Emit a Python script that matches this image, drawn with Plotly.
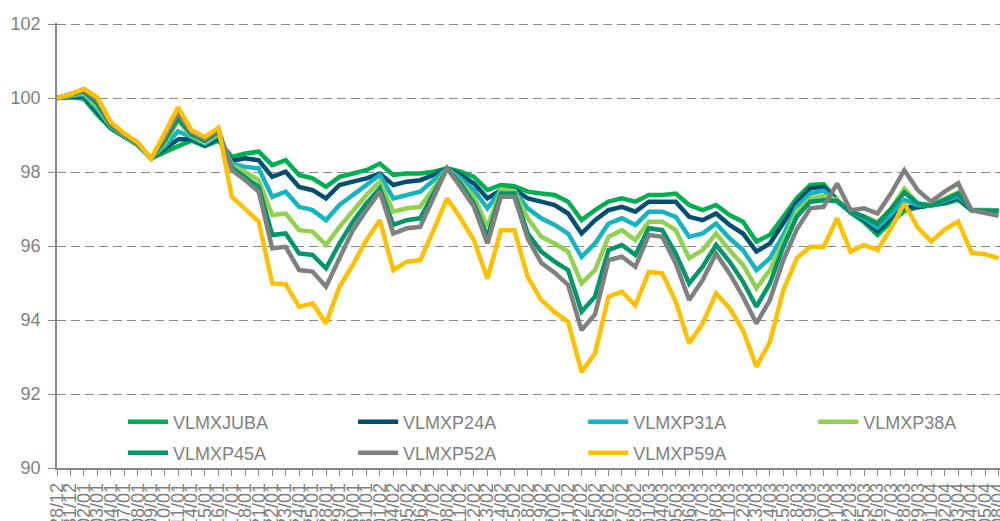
import plotly.graph_objects as go

# Trading days (dd/mm), 28 Dec 2012 to 8 Apr 2013
dates = [
    "28/12", "31/12",
    "02/01", "03/01", "04/01", "07/01", "08/01", "09/01", "10/01", "11/01",
    "14/01", "15/01", "16/01", "17/01", "18/01", "21/01", "22/01", "23/01",
    "24/01", "25/01", "28/01", "29/01", "30/01", "31/01",
    "01/02", "04/02", "05/02", "06/02", "07/02", "08/02", "11/02", "12/02",
    "13/02", "14/02", "15/02", "18/02", "19/02", "20/02", "21/02", "22/02",
    "25/02", "26/02", "27/02", "28/02",
    "01/03", "04/03", "05/03", "06/03", "07/03", "08/03", "11/03", "12/03",
    "13/03", "14/03", "15/03", "18/03", "19/03", "20/03", "21/03", "22/03",
    "25/03", "26/03", "27/03", "28/03", "29/03",
    "01/04", "02/04", "03/04", "04/04", "05/04", "08/04",
]

vlmxjuba = [
    100.0, 100.03, 99.98, 99.55, 99.18, 98.95, 98.73, 98.37, 98.55, 98.7, 98.85, 98.7, 98.85,
    98.41, 98.5, 98.55, 98.19, 98.32, 97.92, 97.83, 97.6, 97.87, 97.96, 98.05, 98.23, 97.92,
    97.96, 97.96, 98.01, 98.1, 98.01, 97.87, 97.51,
    97.65, 97.62, 97.47, 97.42, 97.38, 97.2, 96.7, 96.97, 97.2, 97.29, 97.2, 97.38, 97.38,
    97.42, 97.11, 96.97, 97.11, 96.84, 96.66, 96.12, 96.3, 96.79, 97.29, 97.65, 97.67,
    97.25, 96.9, 96.65, 96.3, 96.65, 96.95, 97.05, 97.1, 97.15, 97.25, 96.97, 96.96, 96.95,
]
vlmxp24a = [
    100.0, 100.04, 100.05, 99.62, 99.2, 98.96, 98.74, 98.37, 98.62, 98.88, 98.9, 98.72, 98.92,
    98.3, 98.37, 98.32, 97.87, 98.01, 97.6, 97.51, 97.29, 97.65, 97.74, 97.83, 97.96, 97.65,
    97.74, 97.78, 97.92, 98.1, 97.92, 97.69, 97.29,
    97.51, 97.53, 97.29, 97.2, 97.11, 96.88, 96.34, 96.7, 96.97, 97.06, 96.93, 97.2, 97.2,
    97.2, 96.79, 96.7, 96.88, 96.57, 96.34, 95.85, 96.07, 96.61, 97.18, 97.56, 97.6,
    97.22, 96.92, 96.7, 96.4, 96.75, 97.05, 97.05, 97.1, 97.18, 97.3, 96.97, 96.97, 96.96,
]
vlmxp31a = [
    100.0, 100.05, 100.1, 99.7, 99.22, 98.97, 98.75, 98.37, 98.7, 99.1, 98.95, 98.76, 99.0,
    98.23, 98.14, 98.1, 97.33, 97.47, 97.06, 96.97, 96.7, 97.11, 97.38, 97.65, 97.92, 97.29,
    97.38, 97.47, 97.78, 98.1, 97.83, 97.51, 97.02,
    97.52, 97.5, 97.02, 96.75, 96.57, 96.34, 95.71, 96.07, 96.61, 96.75, 96.57, 96.93, 96.93,
    96.79, 96.25, 96.34, 96.61, 96.21, 95.89, 95.35, 95.67, 96.3, 97.06, 97.42, 97.5,
    97.2, 96.92, 96.75, 96.5, 96.85, 97.25, 97.1, 97.1, 97.22, 97.35, 96.98, 96.97, 96.97,
]
vlmxp38a = [
    100.0, 100.07, 100.14, 99.78, 99.25, 98.98, 98.76, 98.37, 98.78, 99.38, 98.98, 98.8, 99.05,
    98.18, 98.0, 97.78, 96.84, 96.88, 96.43, 96.39, 96.03, 96.52, 96.97, 97.38, 97.74, 96.93,
    97.02, 97.06, 97.56, 98.1, 97.74, 97.33, 96.52,
    97.51, 97.49, 96.75, 96.25, 96.07, 95.85, 94.99, 95.35, 96.25, 96.43, 96.16, 96.66, 96.66,
    96.43, 95.67, 95.89, 96.34, 95.89, 95.49, 94.86, 95.35, 96.12, 96.93, 97.29, 97.35,
    97.25, 96.95, 96.8, 96.65, 97.0, 97.55, 97.15, 97.1, 97.28, 97.45, 96.97, 96.97, 96.96,
]
vlmxp45a = [
    100.0, 100.08, 100.18, 99.85, 99.27, 99.0, 98.77, 98.37, 98.85, 99.45, 99.02, 98.85, 99.1,
    98.12, 97.87, 97.6, 96.3, 96.34, 95.8, 95.76, 95.4, 96.07, 96.66, 97.15, 97.56, 96.57,
    96.7, 96.75, 97.42, 98.1, 97.69, 97.15, 96.25,
    97.42, 97.42, 96.34, 95.85, 95.58, 95.35, 94.23, 94.63, 95.89, 96.03, 95.76, 96.48, 96.43,
    95.8, 94.99, 95.44, 96.03, 95.58, 95.04, 94.36, 94.99, 95.98, 96.79, 97.2, 97.24,
    97.22, 96.93, 96.8, 96.6, 97.0, 97.45, 97.15, 97.1, 97.25, 97.42, 96.97, 96.97, 96.95,
]
vlmxp52a = [
    100.0, 100.1, 100.22, 99.95, 99.3, 99.02, 98.78, 98.37, 98.95, 99.6, 99.08, 98.9, 99.15,
    98.05, 97.78, 97.47, 95.94, 95.98, 95.35, 95.31, 94.9, 95.67, 96.43, 96.97, 97.47, 96.34,
    96.48, 96.52, 97.33, 98.1, 97.6, 97.06, 96.07,
    97.33, 97.33, 96.2, 95.55, 95.28, 94.95, 93.73, 94.15, 95.62, 95.71, 95.44, 96.3, 96.25,
    95.53, 94.54, 95.08, 95.8, 95.26, 94.63, 93.91, 94.54, 95.62, 96.45, 97.02, 97.06,
    97.69, 96.97, 97.02, 96.88, 97.42, 98.05, 97.51, 97.2, 97.47, 97.7, 96.97, 96.9, 96.82,
]
vlmxp59a = [
    100.0, 100.1, 100.25, 100.02, 99.35, 99.05, 98.8, 98.37, 99.05, 99.75, 99.13, 98.95, 99.2,
    97.33, 97.0, 96.66, 94.99, 94.97, 94.36, 94.45, 93.91, 94.9, 95.5, 96.16, 96.7, 95.35,
    95.58, 95.62, 96.43, 97.29, 96.75, 96.16, 95.12,
    96.43, 96.43, 95.17, 94.54, 94.22, 93.95, 92.6, 93.1, 94.63, 94.77, 94.4, 95.3, 95.26,
    94.5, 93.37, 93.91, 94.72, 94.32, 93.73, 92.74, 93.41, 94.81, 95.67, 95.98, 95.98,
    96.75, 95.85, 96.03, 95.89, 96.48, 97.15, 96.5, 96.12, 96.45, 96.66, 95.82, 95.78, 95.67,
]

names = ["VLMXJUBA", "VLMXP24A", "VLMXP31A", "VLMXP38A", "VLMXP45A", "VLMXP52A", "VLMXP59A"]
values = [vlmxjuba, vlmxp24a, vlmxp31a, vlmxp38a, vlmxp45a, vlmxp52a, vlmxp59a]
colors = ["#00B050", "#004F70", "#14B4C2", "#92D050", "#00966C", "#808080", "#FFC000"]

# Legend grid: four entries per row, two rows, inside the plot area
legend_cols = [0.07, 0.314, 0.558, 0.802, 0.07, 0.314, 0.558]
legend_rows = [0.1034, 0.1034, 0.1034, 0.1034, 0.0337, 0.0337, 0.0337]

FONT = "Liberation Sans, Arial, sans-serif"
GREY = "#8a8a8a"
TEXT = "#7f7f7f"

fig = go.Figure()
legend_layout = {}
for k, (name, vals, color) in enumerate(zip(names, values, colors)):
    key = "legend" if k == 0 else f"legend{k + 1}"
    fig.add_trace(go.Scatter(
        x=dates, y=vals, name=name, mode="lines",
        line=dict(color=color, width=4.5),
        legend=key,
    ))
    legend_layout[key] = dict(
        x=legend_cols[k], y=legend_rows[k],
        xanchor="left", yanchor="middle", orientation="h",
        bgcolor="rgba(0,0,0,0)", itemwidth=40,
        font=dict(family=FONT, size=18, color=TEXT),
    )

fig.update_layout(
    width=1000, height=521,
    margin=dict(l=57, r=0, t=23, b=53),
    paper_bgcolor="white", plot_bgcolor="white",
    font=dict(family=FONT, size=18, color=TEXT),
    showlegend=True,
    xaxis=dict(
        type="category", range=[0, 70.11],
        tickmode="array", tickvals=dates, ticktext=dates,
        tickangle=-90, tickfont=dict(family=FONT, size=18, color=TEXT),
        ticks="outside", ticklen=6, tickwidth=1.2, tickcolor=GREY,
        showline=True, linecolor=GREY, linewidth=1.5,
        showgrid=False, zeroline=False, automargin=False,
    ),
    yaxis=dict(
        range=[90, 102.03], tickvals=[90, 92, 94, 96, 98, 100, 102],
        tickfont=dict(family=FONT, size=18, color=TEXT),
        ticks="outside", ticklen=7, tickwidth=1.2, tickcolor=GREY,
        ticklabelstandoff=4,
        showline=True, linecolor=GREY, linewidth=1.5,
        showgrid=True, gridcolor=GREY, gridwidth=1.3, griddash="9px,5px",
        zeroline=False, automargin=False,
    ),
    **legend_layout,
)

fig.write_html("out.html")
